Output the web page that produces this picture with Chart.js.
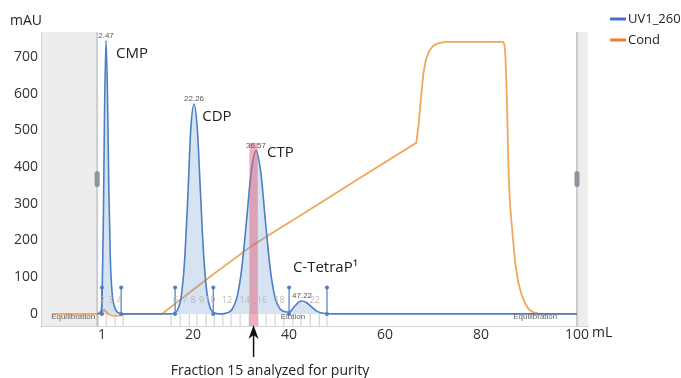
<!DOCTYPE html>
<html>
<head>
<meta charset="utf-8">
<script src="https://cdn.jsdelivr.net/npm/chart.js@4.4.1/dist/chart.umd.min.js"></script>
<style>
  html, body { margin: 0; padding: 0; background: #fff; }
  canvas { display: block; }
</style>
</head>
<body>
<canvas id="chart" width="681" height="378"></canvas>
<script>
// UV1_260 trace, volume in mL / absorbance in mAU
const uvVolume = [0, 0.5, 0.8, 1.05, 1.3, 1.55, 1.85, 2.15, 2.45, 2.75, 3.1, 3.6, 4.2, 5.0, 5.5,
  15.0, 16.0, 16.8, 17.5, 18.2, 18.9, 19.5, 20.2, 20.9, 21.5, 22.2, 22.9, 23.6, 24.4, 25.5,
  26.0, 27.1, 28.1, 29.1, 30.1, 31.1, 32.1, 33.1, 34.1, 35.1, 36.1, 37.1, 38.1, 39.2, 40.1,
  41.0, 42.0, 42.7, 43.6, 44.6, 45.6, 46.6, 47.6, 49.0, 100.0];
const uvSignal = [0, 1, 5, 60, 260, 560, 745, 600, 330, 150, 60, 20, 5, 1, 0,
  0, 2, 12, 45, 140, 320, 500, 572, 500, 340, 160, 55, 15, 3, 0,
  0, 3, 12, 43, 120, 249, 386, 444, 386, 249, 120, 43, 14, 6, 5,
  18, 32, 35, 31, 20, 9, 3, 1, 0, 0];

// Conductivity trace, drawn on the same axis
const condVolume = [-9.4, 0, 0.6, 1.5, 2.3, 3.1, 4.8, 5.8, 13.5, 24.0, 32.5, 45.0, 55.0, 66.5,
  67.0, 67.5, 68.0, 68.5, 69.2, 70.0, 71.0, 72.5, 84.6,
  84.9, 85.1, 85.4, 85.8, 86.1, 86.5, 87.1, 87.7, 88.4, 89.2, 90.0, 90.9, 92.3, 100.0];
const condSignal = [0, 0, 5, 11, 0, -5, -5, 0, 0, 106, 188, 290, 372, 466,
  515, 590, 655, 692, 716, 730, 737, 741, 741,
  733, 700, 583, 365, 290, 229, 140, 90, 55, 28, 12, 4, 0, 0];

const xTicks = [1, 20, 40, 60, 80, 100];
const yTicks = [0, 100, 200, 300, 400, 500, 600, 700];

const peakNames = ['CMP', 'CDP', 'CTP', 'C-TetraP¹'];
const peakNameX = [3.95, 21.9, 35.4, 40.8];
const peakNameY = [708, 537, 438, 125];
const peakRetention = ['2.47', '22.26', '36.57', '47.22'];
const peakTopX = [1.85, 20.2, 33.1, 42.7];
const peakTopY = [745, 572, 444, 35];

const peakLimits = [1.0, 5.0, 16.25, 24.2, 40.0, 47.9];
const peakLimitHeight = 72;

const firstFraction = 2;
const fractionEdges = [0.2, 1.9, 3.75, 5.4, 15.4, 17.3, 19.2, 20.8, 22.7, 24.4, 26.2, 27.9, 29.8,
  31.7, 33.5, 35.2, 37.1, 38.9, 40.8, 42.5, 44.4, 46.3, 47.9];
const shownFractions = [2, 3, 4, 6, 7, 8, 9, 10, 12, 14, 16, 18, 22];
const analyzedFraction = 15;
const analyzedTop = 466;

const phaseNames = ['Equilibration', 'Elution', 'Equilibration'];
const phaseX = [-5, 40.8, 91.3];

const xMin = -11.7, xMax = 102.3;
const yMin = -33, yMax = 768;
const sideBands = [[xMin, 0], [100, xMax]];

const FONT = "'Open Sans', 'Noto Sans', sans-serif";
const NARROW = "'Liberation Sans Narrow', 'Liberation Sans', sans-serif";
const blue = '#4d7fc4';
const orange = '#efa85a';

const fracStart = n => fractionEdges[n - firstFraction];
const fracEnd = n => fractionEdges[n - firstFraction + 1];
const fracMid = n => (fracStart(n) + fracEnd(n)) / 2;

const limitPts = [];
peakLimits.forEach(v => { limitPts.push({x: v, y: 0}, {x: v, y: peakLimitHeight}, {x: v, y: null}); });
const edgePts = [];
fractionEdges.forEach(v => { edgePts.push({x: v, y: yMin}, {x: v, y: 0}, {x: v, y: null}); });

const decor = {
  id: 'decor',
  beforeDraw(chart) {
    const {ctx, chartArea: a, scales: {x}} = chart;
    ctx.save();
    sideBands.forEach(([from, to], i) => {
      const l = x.getPixelForValue(from), r = x.getPixelForValue(to);
      ctx.fillStyle = '#ededed';
      ctx.fillRect(l, a.top, r - l, a.bottom - a.top);
      const edge = i === 0 ? r : l;
      ctx.fillStyle = '#c9ccd2';
      ctx.fillRect(edge - 1, a.top, 2, a.bottom - a.top);
      ctx.fillStyle = '#8e939c';
      ctx.beginPath();
      ctx.roundRect(edge - 2.5, 171, 5, 16, 2.5);
      ctx.fill();
    });
    ctx.restore();
  },
  afterDatasetsDraw(chart) {
    const {ctx, scales: {x, y}} = chart;
    ctx.save();
    // fraction numbers
    ctx.font = "9px " + FONT;
    ctx.fillStyle = '#b9b9b9';
    ctx.textAlign = 'center';
    ctx.textBaseline = 'middle';
    shownFractions.forEach(n => ctx.fillText(String(n), x.getPixelForValue(fracMid(n)), y.getPixelForValue(38)));
    // phase names
    ctx.font = "8px " + NARROW;
    ctx.fillStyle = '#666';
    phaseNames.forEach((t, i) => ctx.fillText(t, x.getPixelForValue(phaseX[i]), y.getPixelForValue(-8)));
    // retention labels
    ctx.font = "8px " + NARROW;
    ctx.fillStyle = '#555';
    peakRetention.forEach((t, i) => ctx.fillText(t, x.getPixelForValue(peakTopX[i]), y.getPixelForValue(peakTopY[i]) - 5));
    // compound names
    ctx.font = "15px " + FONT;
    ctx.fillStyle = '#222';
    ctx.textAlign = 'left';
    peakNames.forEach((t, i) => ctx.fillText(t, x.getPixelForValue(peakNameX[i]), y.getPixelForValue(peakNameY[i])));
    ctx.restore();
  },
  afterDraw(chart) {
    const {ctx, chartArea: a, scales: {x}} = chart;
    ctx.save();
    ctx.fillStyle = '#222';
    ctx.font = "14px " + FONT;
    ctx.textBaseline = 'middle';
    ctx.textAlign = 'left';
    ctx.fillText('mAU', 10, 21);
    ctx.fillText('mL', 592, 333);

    // arrow to fraction 15
    const ax = x.getPixelForValue(fracMid(analyzedFraction));
    const tip = a.bottom - 1;
    ctx.strokeStyle = '#111';
    ctx.lineWidth = 1.5;
    ctx.beginPath();
    ctx.moveTo(ax, tip + 8);
    ctx.lineTo(ax, 357);
    ctx.stroke();
    ctx.fillStyle = '#111';
    ctx.beginPath();
    ctx.moveTo(ax, tip);
    ctx.lineTo(ax + 5, tip + 14);
    ctx.lineTo(ax, tip + 10);
    ctx.lineTo(ax - 5, tip + 14);
    ctx.closePath();
    ctx.fill();

    ctx.fillStyle = '#222';
    ctx.textAlign = 'center';
    ctx.fillText('Fraction 15 analyzed for purity', 270, 371);

    // legend
    const items = [[chart.data.datasets[2].label, '#4472c4'], [chart.data.datasets[3].label, '#ed7d31']];
    ctx.font = "13px " + FONT;
    ctx.textAlign = 'left';
    items.forEach(([label, col], i) => {
      const ly = 19 + i * 21;
      ctx.fillStyle = col;
      ctx.fillRect(610, ly - 1.5, 16, 3);
      ctx.fillStyle = '#222';
      ctx.fillText(label, 628, ly);
    });
    ctx.restore();
  }
};

new Chart(document.getElementById('chart'), {
  type: 'line',
  data: {
    datasets: [
      {
        label: 'Fraction 15',
        data: [{x: fracStart(analyzedFraction), y: analyzedTop}, {x: fracEnd(analyzedFraction), y: analyzedTop}],
        fill: 'start', backgroundColor: 'rgba(226, 96, 118, 0.5)', borderWidth: 0, pointRadius: 0, order: 0
      },
      {
        label: 'Peak limits',
        data: limitPts, spanGaps: false,
        borderColor: blue, borderWidth: 1.2, pointRadius: 2, pointBackgroundColor: blue,
        pointBorderWidth: 0, order: 1
      },
      {
        label: 'UV1_260',
        data: uvVolume.map((v, i) => ({x: v, y: uvSignal[i]})),
        borderColor: blue, borderWidth: 1.6, cubicInterpolationMode: 'monotone',
        fill: 'origin', backgroundColor: 'rgba(100, 150, 210, 0.27)', pointRadius: 0, order: 2
      },
      {
        label: 'Cond',
        data: condVolume.map((v, i) => ({x: v, y: condSignal[i]})),
        borderColor: orange, borderWidth: 1.8, tension: 0,
        fill: false, pointRadius: 0, order: 3
      },
      {
        label: 'Fractions',
        data: edgePts, spanGaps: false,
        borderColor: 'rgba(160, 160, 160, 0.55)', borderWidth: 1, pointRadius: 0, order: 4
      }
    ]
  },
  options: {
    responsive: false,
    animation: false,
    layout: {padding: {top: 32, right: 93, bottom: 30, left: 0}},
    plugins: {legend: {display: false}, tooltip: {enabled: false}},
    scales: {
      x: {
        type: 'linear', min: xMin, max: xMax,
        afterBuildTicks: s => { s.ticks = xTicks.map(v => ({value: v})); },
        afterFit: s => { s.height = 22; },
        grid: {display: false, drawTicks: false},
        border: {display: true, color: '#d2d2d2'},
        ticks: {color: '#333', font: {family: FONT, size: 14}, padding: 1, maxRotation: 0}
      },
      y: {
        type: 'linear', min: yMin, max: yMax,
        afterBuildTicks: s => { s.ticks = yTicks.map(v => ({value: v})); },
        afterFit: s => { s.width = 41; },
        grid: {display: false, drawTicks: false},
        border: {display: true, color: '#d2d2d2'},
        ticks: {color: '#333', font: {family: FONT, size: 14}, padding: 3}
      }
    }
  },
  plugins: [decor]
});
</script>
</body>
</html>
